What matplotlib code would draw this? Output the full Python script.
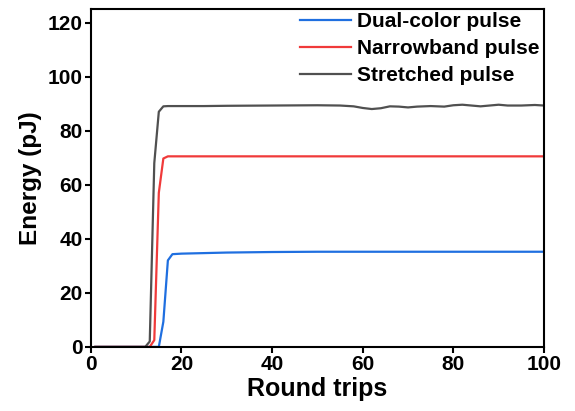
import matplotlib.pyplot as plt
import numpy as np

plt.rcParams['font.family'] = ['Liberation Sans', 'DejaVu Sans']
plt.rcParams['font.weight'] = 'bold'

# round trips and pulse energies (pJ)
trips = [1, 12, 13, 14, 15, 16, 17, 18, 20, 25, 30, 40, 50, 55, 58, 60, 62, 64, 66, 68,
         70, 72, 75, 78, 80, 82, 84, 86, 88, 90, 92, 95, 98, 100]
dual = [0, 0, 0, 0, 0, 9.3, 32, 34.3, 34.5, 34.7, 34.9, 35.1, 35.2, 35.2, 35.2, 35.2, 35.2,
        35.2, 35.2, 35.2, 35.2, 35.2, 35.2, 35.2, 35.2, 35.2, 35.2, 35.2, 35.2, 35.2, 35.2,
        35.2, 35.2, 35.2]
narrow = [0, 0, 0, 2.5, 57, 69.7, 70.5, 70.5, 70.5, 70.5, 70.5, 70.5, 70.5, 70.5, 70.5,
          70.5, 70.5, 70.5, 70.5, 70.5, 70.5, 70.5, 70.5, 70.5, 70.5, 70.5, 70.5, 70.5,
          70.5, 70.5, 70.5, 70.5, 70.5, 70.5]
stretched = [0, 0, 2, 68, 87, 89, 89.1, 89.1, 89.1, 89.1, 89.2, 89.3, 89.4, 89.3, 89.0,
             88.4, 88.0, 88.3, 89.0, 88.9, 88.6, 88.9, 89.1, 88.9, 89.4, 89.6, 89.3, 89.0,
             89.3, 89.6, 89.3, 89.3, 89.5, 89.3]

fig = plt.figure(figsize=(5.75, 4.11), dpi=100)
ax = fig.add_axes([0.158, 0.156, 0.788, 0.822])

ax.plot(trips, dual, color='#1f6fe0', lw=1.6, label='Dual-color pulse')
ax.plot(trips, narrow, color='#f03a3a', lw=1.6, label='Narrowband pulse')
ax.plot(trips, stretched, color='#505050', lw=1.6, label='Stretched pulse')

ax.set_xlim(0, 100)
ax.set_ylim(0, 125)
ax.set_xticks(np.arange(0, 101, 20))
ax.set_yticks(np.arange(0, 121, 20))
ax.tick_params(labelsize=15, width=1.5, length=4, pad=2)
for s in ax.spines.values():
    s.set_linewidth(1.5)

ax.set_xlabel('Round trips', fontsize=18, fontweight='bold', labelpad=2)
ax.set_ylabel('Energy (pJ)', fontsize=17.5, fontweight='bold', labelpad=4)

fig.legend(loc='upper left', bbox_to_anchor=(300 / 575, 399 / 411), frameon=False,
           fontsize=15, borderpad=0, borderaxespad=0, handlelength=2.45,
           handletextpad=0.3, labelspacing=0.38)

fig.savefig('out.png', dpi=100)
